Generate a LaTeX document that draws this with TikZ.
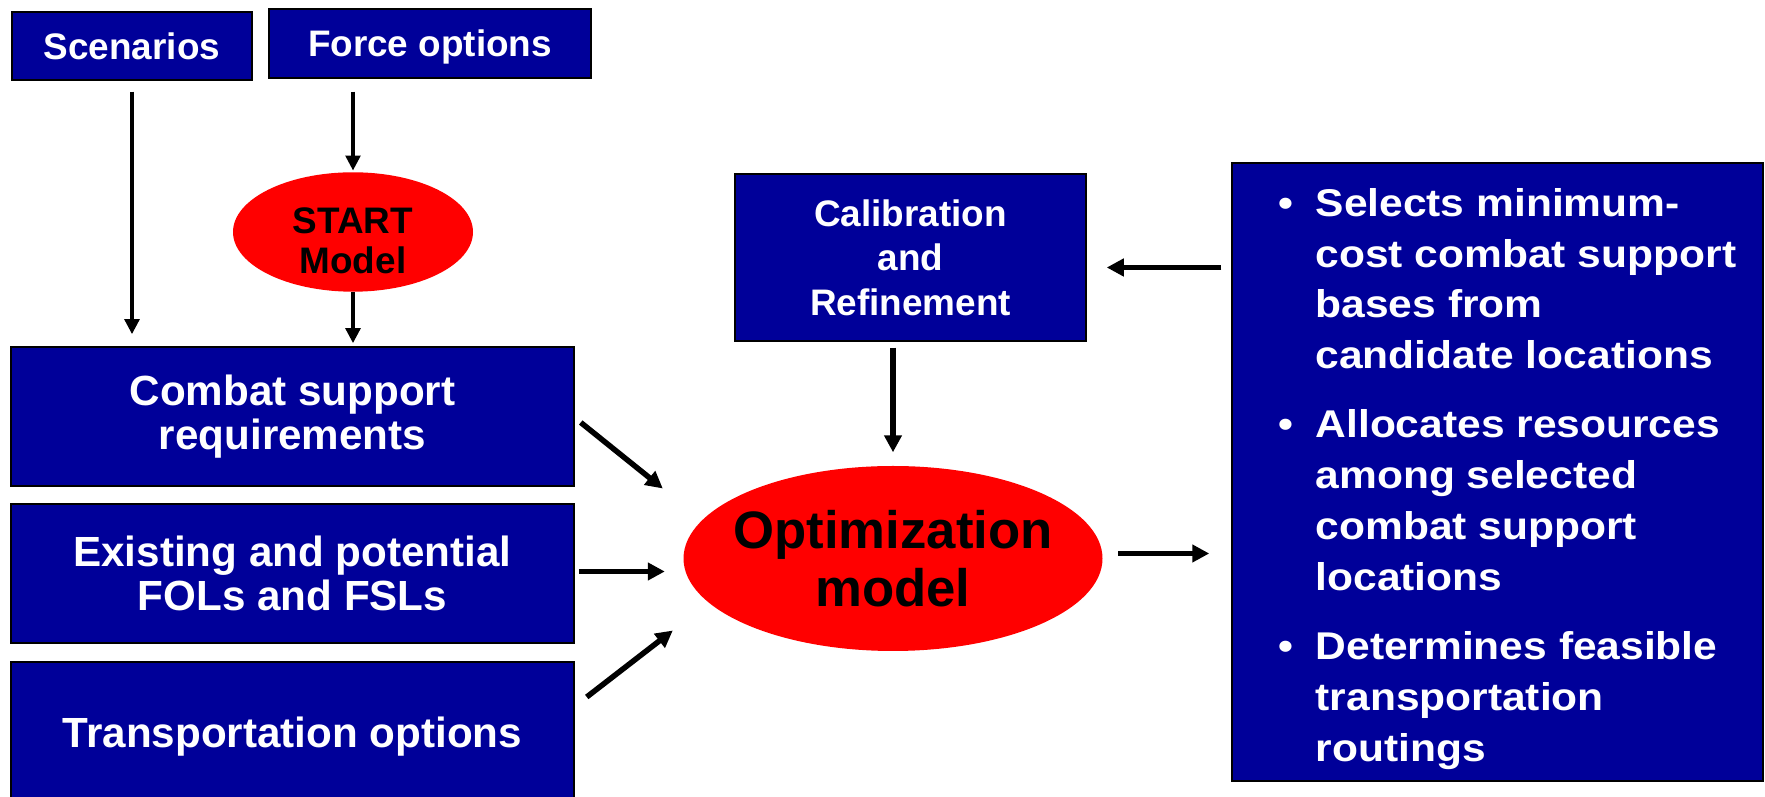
\documentclass[tikz,border=0pt]{standalone}
\usepackage{fontspec}
\setmainfont{Liberation Sans}
\newfontfamily\widesans{Liberation Sans}[FakeStretch=1.1]
\usetikzlibrary{arrows.meta,calc,shapes.geometric}
\definecolor{boxblue}{RGB}{0,0,153}
\tikzset{
  bluebox/.style={draw=black, line width=0.15mm, fill=boxblue, text=white, align=center, inner sep=0pt},
  redoval/.style={ellipse, fill=red, text=black, align=center, inner sep=0pt},
  arr/.style={line width=0.55mm, -{Triangle[length=1.7mm,width=1.7mm]}},
  thinarr/.style={line width=0.38mm, -{Triangle[length=1.5mm,width=1.45mm]}}
}

\begin{document}
\begin{tikzpicture}[x=0.1mm, y=-0.1mm]
\useasboundingbox (0,0) rectangle (1765,797);

% inputs along the top
\node[bluebox, minimum width=24mm, minimum height=6.8mm, font=\bfseries\fontsize{10.5}{12.7}\selectfont] (scen) at (132,46) {Scenarios};
\node[bluebox, text depth=0pt, minimum width=32.2mm, minimum height=6.9mm, font=\bfseries\fontsize{10.5}{12.7}\selectfont] (force) at (430,43.5) {Force options};
\node[redoval, minimum width=24mm, minimum height=11.6mm, font=\bfseries\fontsize{10.5}{11.4}\selectfont] (start) at (353,232) {\rule{0pt}{4.4mm}START\\Model};

% data boxes on the left
\node[bluebox, minimum width=56.3mm, minimum height=13.9mm, font=\bfseries\fontsize{12}{12.6}\selectfont] (combat) at (292.5,416.5) {Combat support\\requirements};
\node[bluebox, minimum width=56.3mm, minimum height=13.9mm, font=\bfseries\fontsize{12}{12.6}\selectfont] (exist) at (292.5,573.5) {Existing and potential\\FOLs and FSLs};
\node[bluebox, text depth=0pt, minimum width=56.3mm, minimum height=14mm, font=\bfseries\fontsize{12}{12.6}\selectfont] (trans) at (292.5,732) {Transportation options};

% model and feedback
\node[bluebox, minimum width=35.1mm, minimum height=16.7mm, font=\bfseries\fontsize{10.5}{12.7}\selectfont] (calib) at (910.5,257.5) {Calibration\\and\\Refinement};
\node[redoval, inner xsep=-2mm, minimum width=41.9mm, minimum height=18.5mm, font=\bfseries\fontsize{15}{16.5}\selectfont] (opt) at (893,558.5) {Optimization\\model};

% results
\node[bluebox, minimum width=53.1mm, minimum height=61.8mm, font=\widesans\bfseries\fontsize{11}{14.5}\selectfont] (bullets) at (1497.5,472) {%
  \begin{tabular}{@{\hspace*{2mm}}l@{\hspace{2.2mm}}l@{}}
  \rule{0pt}{4.9mm}\textbullet & Selects minimum-\\
   & cost combat support\\
   & bases from\\
   & candidate locations\\[1.8mm]
  \textbullet & Allocates resources\\
   & among selected\\
   & combat support\\
   & locations\\[1.8mm]
  \textbullet & Determines feasible\\
   & transportation\\
   & routings
  \end{tabular}};

% connectors
\draw[thinarr, shorten <=1.1mm, shorten >=1.2mm] (scen.south) -- (scen.south |- combat.north);
\draw[thinarr, shorten <=1.3mm, shorten >=0.1mm] (start.north |- force.south) -- (start.north);
\draw[thinarr, shorten >=0.3mm] (start.south) -- (start.south |- combat.north);

\draw[arr] ($(combat.east)+(6,6)$) -- ($(opt.west)+(-20,-70)$);
\draw[arr] ($(exist.east)+(4,-2)$) -- ($(exist.east -| opt.west)+(-18,-2)$);
\draw[arr] ($(trans.east)+(12,-35)$) -- ($(opt.west)+(-10,72)$);

\draw[arr, shorten <=0.6mm, shorten >=1.3mm] (calib.south -| opt.north) -- (opt.north);
\draw[arr, shorten <=1mm, shorten >=2mm] ($(calib.east -| bullets.west)+(0,10)$) -- ($(calib.east)+(0,10)$);
\draw[arr, shorten <=1.5mm, shorten >=2.2mm] ($(opt.east)+(0,-5)$) -- ($(opt.east -| bullets.west)+(0,-5)$);
\end{tikzpicture}
\end{document}
